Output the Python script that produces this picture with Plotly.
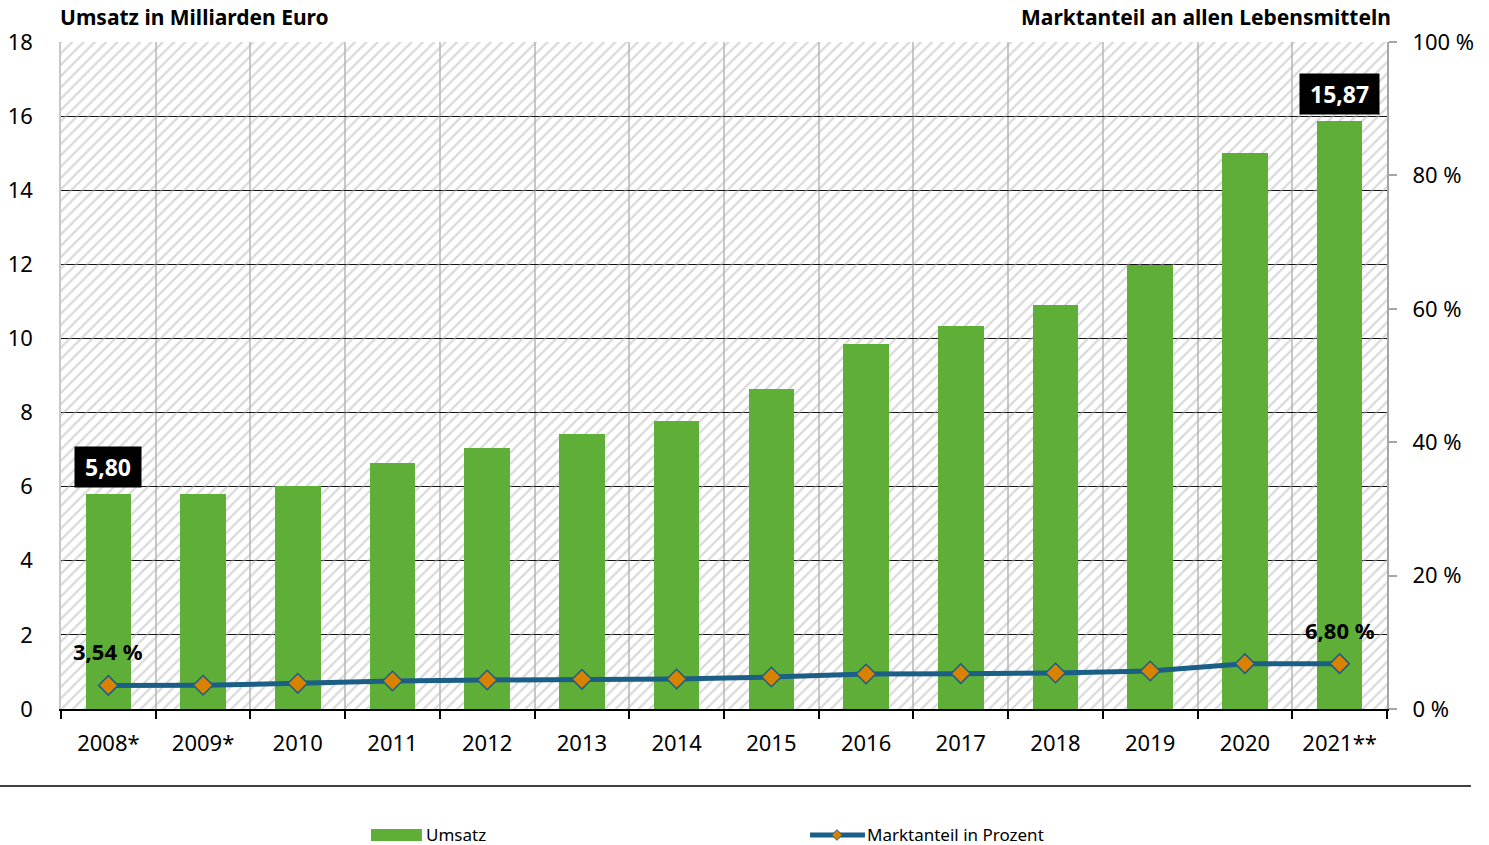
import plotly.graph_objects as go

categories = ["2008*", "2009*", "2010", "2011", "2012", "2013", "2014",
              "2015", "2016", "2017", "2018", "2019", "2020", "2021**"]
umsatz = [5.80, 5.80, 6.02, 6.64, 7.04, 7.42, 7.77, 8.63, 9.85, 10.33,
          10.90, 11.98, 15.00, 15.87]
marktanteil = [3.54, 3.56, 3.85, 4.20, 4.35, 4.45, 4.50, 4.80, 5.25, 5.30,
               5.40, 5.70, 6.80, 6.80]
left_ticks = [0, 2, 4, 6, 8, 10, 12, 14, 16, 18]
right_ticks = [0, 20, 40, 60, 80, 100]

FONT = "Noto Sans"
GREEN = "#5eae37"
BLUE = "#1b5e86"
ORANGE = "#d98200"

n = len(categories)
xs = list(range(n))
ymax = left_ticks[-1]

def de(v):
    return f"{v:.2f}".replace(".", ",")

fig = go.Figure()

# hatched background
fig.add_trace(go.Bar(
    x=[(n - 1) / 2], y=[ymax], width=[n], base=0,
    marker=dict(color="rgba(0,0,0,0)", line=dict(width=0),
                pattern=dict(shape="/", size=8, solidity=0.28,
                             fgcolor="#b4b4b4", bgcolor="rgba(0,0,0,0)")),
    hoverinfo="skip", showlegend=False))

fig.add_trace(go.Bar(
    x=xs, y=umsatz, width=0.48, marker=dict(color=GREEN, line=dict(width=0)),
    name="Umsatz", showlegend=False))

fig.add_trace(go.Scatter(
    x=xs, y=marktanteil, yaxis="y2", mode="lines+markers",
    line=dict(color=BLUE, width=5),
    marker=dict(symbol="diamond", size=15, color=ORANGE,
                line=dict(color=BLUE, width=1.5)),
    name="Marktanteil in Prozent", showlegend=False))

annotations = []
# value labels
for i in (0, n - 1):
    annotations.append(dict(
        x=xs[i], y=umsatz[i], xref="x", yref="y",
        text=f"&nbsp;<b>{de(umsatz[i])}</b>&nbsp;",
        showarrow=False, yshift=27, bgcolor="black", borderpad=4,
        font=dict(family=FONT, size=23, color="white")))
    annotations.append(dict(
        x=xs[i], y=marktanteil[i], xref="x", yref="y2",
        text=f"<b>{de(marktanteil[i])} %</b>",
        showarrow=False, yshift=34,
        font=dict(family=FONT, size=22, color="black")))

annotations += [
    dict(x=-0.0023, y=1.0375, xref="paper", yref="paper", xanchor="left",
         yanchor="middle", text="<b>Umsatz in Milliarden Euro</b>", showarrow=False,
         font=dict(family=FONT, size=21, color="black")),
    dict(x=1.0045, y=1.0375, xref="paper", yref="paper", xanchor="right",
         yanchor="middle", text="<b>Marktanteil an allen Lebensmitteln</b>",
         showarrow=False, font=dict(family=FONT, size=21, color="black")),
    dict(x=0.2738, y=-0.1889, xref="paper", yref="paper", xanchor="left",
         yanchor="middle", text="Umsatz", showarrow=False,
         font=dict(family=FONT, size=17, color="black")),
    dict(x=0.6064, y=-0.1889, xref="paper", yref="paper", xanchor="left",
         yanchor="middle", text="Marktanteil in Prozent", showarrow=False,
         font=dict(family=FONT, size=17, color="black")),
]

cx, cy, dx, dy = 0.5852, -0.1889, 0.0040, 0.0080
shapes = [
    dict(type="line", xref="paper", yref="paper", x0=-0.046, x1=1.0633,
         y0=-0.1154, y1=-0.1154, line=dict(color="black", width=1.5)),
    dict(type="rect", xref="paper", yref="paper", x0=0.2338, x1=0.2722,
         y0=-0.1979, y1=-0.1799, fillcolor=GREEN, line=dict(width=0)),
    dict(type="line", xref="paper", yref="paper", x0=0.5649, x1=0.6063,
         y0=cy, y1=cy, line=dict(color=BLUE, width=5)),
    dict(type="path", xref="paper", yref="paper",
         path=f"M {cx},{cy+dy} L {cx+dx},{cy} L {cx},{cy-dy} L {cx-dx},{cy} Z",
         fillcolor=ORANGE, line=dict(color=BLUE, width=1)),
]

fig.update_layout(
    width=1489, height=845,
    margin=dict(l=61, r=102, t=42, b=136),
    paper_bgcolor="white", plot_bgcolor="white",
    barmode="overlay", bargap=0,
    font=dict(family=FONT, size=22, color="black"),
    xaxis=dict(range=[-0.5, n - 0.5], tickvals=xs, ticktext=categories,
               automargin=False,
               ticks="outside", ticklen=14, tickcolor="rgba(0,0,0,0)",
               showgrid=False, zeroline=False,
               showline=True, linecolor="black", linewidth=2,
               tickfont=dict(family=FONT, size=22, color="black"),
               minor=dict(tickvals=[i - 0.5 for i in range(n + 1)],
                          ticks="outside", ticklen=8, tickwidth=2,
                          tickcolor="black", showgrid=True,
                          gridcolor="#c8c8c8", gridwidth=1.5)),
    yaxis=dict(range=[0, ymax], tickvals=left_ticks, ticks="outside", ticklen=22,
               automargin=False,
               tickcolor="rgba(0,0,0,0)", showgrid=True, gridcolor="#111111",
               gridwidth=1.3, zeroline=False, showline=True, linecolor="#c8c8c8",
               linewidth=1.5, tickfont=dict(family=FONT, size=22, color="black")),
    yaxis2=dict(range=[0, 100], tickvals=right_ticks,
                ticktext=[f"{v} %" for v in right_ticks],
                automargin=False,
                overlaying="y", side="right", ticks="outside", ticklen=8,
                tickwidth=2, tickcolor="#a6a6a6", showgrid=False, zeroline=False,
                showline=True, linecolor="#a6a6a6", linewidth=2,
                ticklabelstandoff=11,
                tickfont=dict(family=FONT, size=22, color="black")),
    annotations=annotations, shapes=shapes,
    showlegend=False,
)

fig.write_html("out.html", config={"displayModeBar": False},
               post_script="document.body.style.margin='0';")
